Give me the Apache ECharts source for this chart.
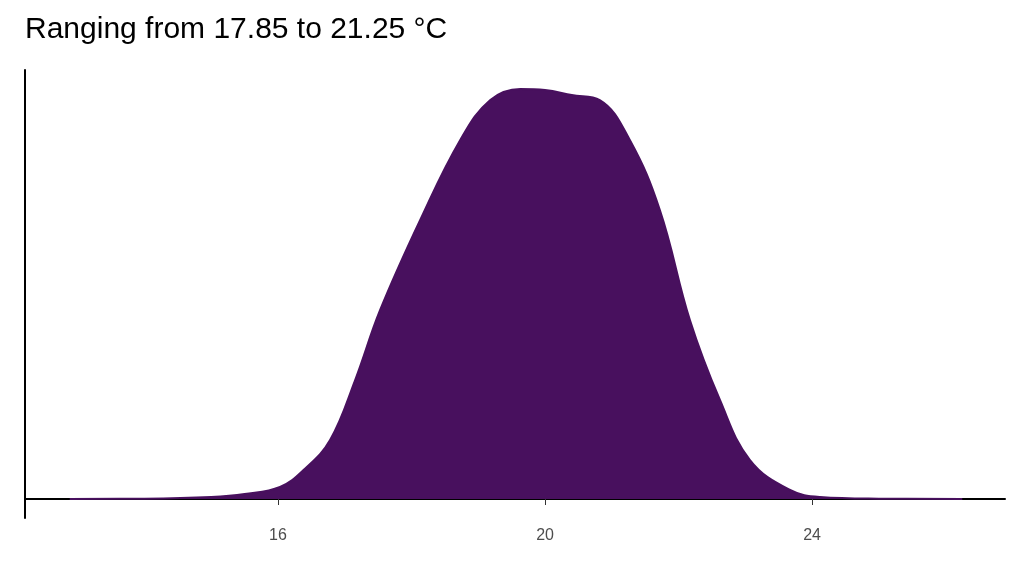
<!DOCTYPE html>
<html><head><meta charset="utf-8">
<script src="https://cdn.jsdelivr.net/npm/echarts@6/dist/echarts.min.js"></script>
<style>html,body{margin:0;padding:0;background:#fff}#c{width:1024px;height:576px}</style>
</head><body><div id="c"></div>
<script>
const temps = [12.88, 14.0, 15.0, 15.5, 16.03, 16.4, 16.78, 17.15, 17.53, 18.13, 18.73, 19.18, 19.63, 20.0, 20.4, 20.82, 21.27, 21.72, 22.17, 22.62, 23.07, 23.67, 24.12, 25.0, 26.25];
const density = [0, 0.3, 2, 5, 12, 30, 59, 118, 189, 279, 359, 399, 410, 409, 404, 399, 359, 289, 179, 99, 39, 9, 2, 0.3, 0];
const tickValues = [16, 20, 24];
const titleText = 'Ranging from 17.85 to 21.25 °C';

const chart = echarts.init(document.getElementById('c'));
chart.setOption({
  animation: false,
  title: {text: titleText, left: 20, top: 10, textStyle: {fontFamily: 'Liberation Sans', fontSize: 30, fontWeight: 'normal', color: '#000'}},
  grid: {left: 25, right: 19, top: 70, bottom: 58},
  xAxis: {type: 'value', min: 12.21, max: 26.89,
    axisLine: {lineStyle: {color: '#000', width: 2}},
    axisTick: {customValues: tickValues, length: 6, lineStyle: {color: '#333'}},
    axisLabel: {customValues: tickValues, color: '#4d4d4d', fontSize: 16, fontFamily: 'Liberation Sans', margin: 10},
    splitLine: {show: false}},
  yAxis: {type: 'value', min: -19, max: 429, axisLine: {show: true, lineStyle: {color: '#000', width: 2}},
    axisTick: {show: false}, axisLabel: {show: false}, splitLine: {show: false}},
  series: [{type: 'line', smooth: 0.4, symbol: 'none',
    data: temps.map((t, i) => [t, density[i]]),
    lineStyle: {color: '#48105E', width: 2},
    areaStyle: {color: '#48105E', opacity: 1, origin: 0}}]
});
</script></body></html>
